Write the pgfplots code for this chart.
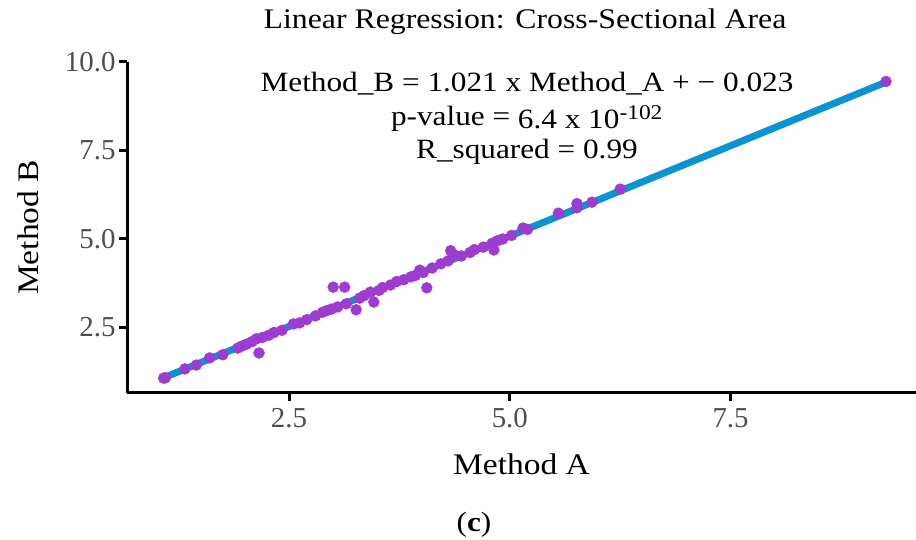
\documentclass[border=0pt]{standalone}
\usepackage{fontspec}
\setmainfont{Liberation Serif}[FakeStretch=1.12]
\newfontfamily\tickfont{Liberation Serif}
\usepackage{pgfplots}
\pgfplotsset{compat=1.18}
\definecolor{pts}{HTML}{9E3BD0}
\definecolor{fit}{HTML}{0A93D3}
\definecolor{tickc}{HTML}{4D4D4D}
\pgfplotstableread{
x y
1.08 1.07
1.10 1.08
1.32 1.33
1.45 1.44
1.60 1.64
1.75 1.73
1.92 1.92
1.97 1.98
2.02 2.03
2.08 2.10
2.13 2.18
2.16 1.78
2.20 2.22
2.27 2.28
2.33 2.36
2.42 2.42
2.55 2.60
2.62 2.63
2.70 2.72
2.80 2.83
2.88 2.93
2.93 2.98
2.98 3.02
3.00 3.64
3.05 3.08
3.13 3.64
3.15 3.17
3.26 3.00
3.30 3.33
3.35 3.40
3.42 3.50
3.46 3.22
3.52 3.55
3.56 3.63
3.65 3.70
3.72 3.80
3.80 3.85
3.88 3.93
3.93 3.97
3.98 4.12
4.02 4.05
4.06 3.62
4.12 4.18
4.22 4.30
4.30 4.38
4.33 4.67
4.37 4.55
4.45 4.52
4.55 4.62
4.60 4.70
4.70 4.77
4.80 4.88
4.82 4.69
4.86 4.95
4.92 5.00
5.02 5.10
5.15 5.31
5.20 5.27
5.55 5.73
5.76 6.00
5.76 5.88
5.93 6.04
6.25 6.41
9.26 9.45
}\pts
\pgfplotstableread{
x y
1.08 1.080
9.26 9.431
}\fitline
\begin{document}
\begin{tikzpicture}[x=1bp,y=1bp]
\useasboundingbox (0,0) rectangle (916,540);
\begin{axis}[
  at={(127bp,147bp)}, anchor=south west,
  scale only axis, width=789bp, height=331bp,
  xmin=0.665, xmax=9.6, ymin=0.65, ymax=10.0,
  axis lines*=left,
  axis line style={line width=3bp, black},
  xtick={2.5,5,7.5}, xticklabels={2.5,5.0,7.5},
  ytick={2.5,5,7.5,10}, yticklabels={2.5,5.0,7.5,10.0},
  tick align=outside, major tick length=8bp,
  tick style={line width=3bp, black},
  ticklabel style={font=\tickfont\fontsize{29}{32}\selectfont, text=tickc},
  xticklabel style={yshift=-4bp},
  xlabel={Method A}, ylabel={Method B},
  label style={font=\fontsize{30}{34}\selectfont},
  xlabel style={at={(axis description cs:0.5,-0.2145)}, anchor=center},
  ylabel style={at={(axis description cs:-0.1255,0.5)}, anchor=center},
  clip=false,
]
\addplot[only marks, mark=*, mark size=5.5bp, mark options={draw=pts, fill=pts}] table {\pts};
\addplot[fit, line width=7bp, line cap=butt] table {\fitline};
\end{axis}
\node[font=\fontsize{28.5}{32}\selectfont] at (525,518) {Linear Regression: Cross-Sectional Area};
\node[font=\fontsize{28}{32}\selectfont, anchor=base] at (527,448) {Method\textunderscore B = 1.021 x Method\textunderscore A + − 0.023};
\node[font=\fontsize{28}{32}\selectfont, anchor=base] at (527,414) {p-value = \raisebox{-3bp}{6.4 x 10\textsuperscript{\fontsize{21}{24}\selectfont -102}}};
\node[font=\fontsize{28}{32}\selectfont, anchor=base] at (527,381) {R\textunderscore squared = 0.99};
\node[font=\fontsize{28}{32}\selectfont] at (474,15) {(\textbf{c})};
\end{tikzpicture}
\end{document}
